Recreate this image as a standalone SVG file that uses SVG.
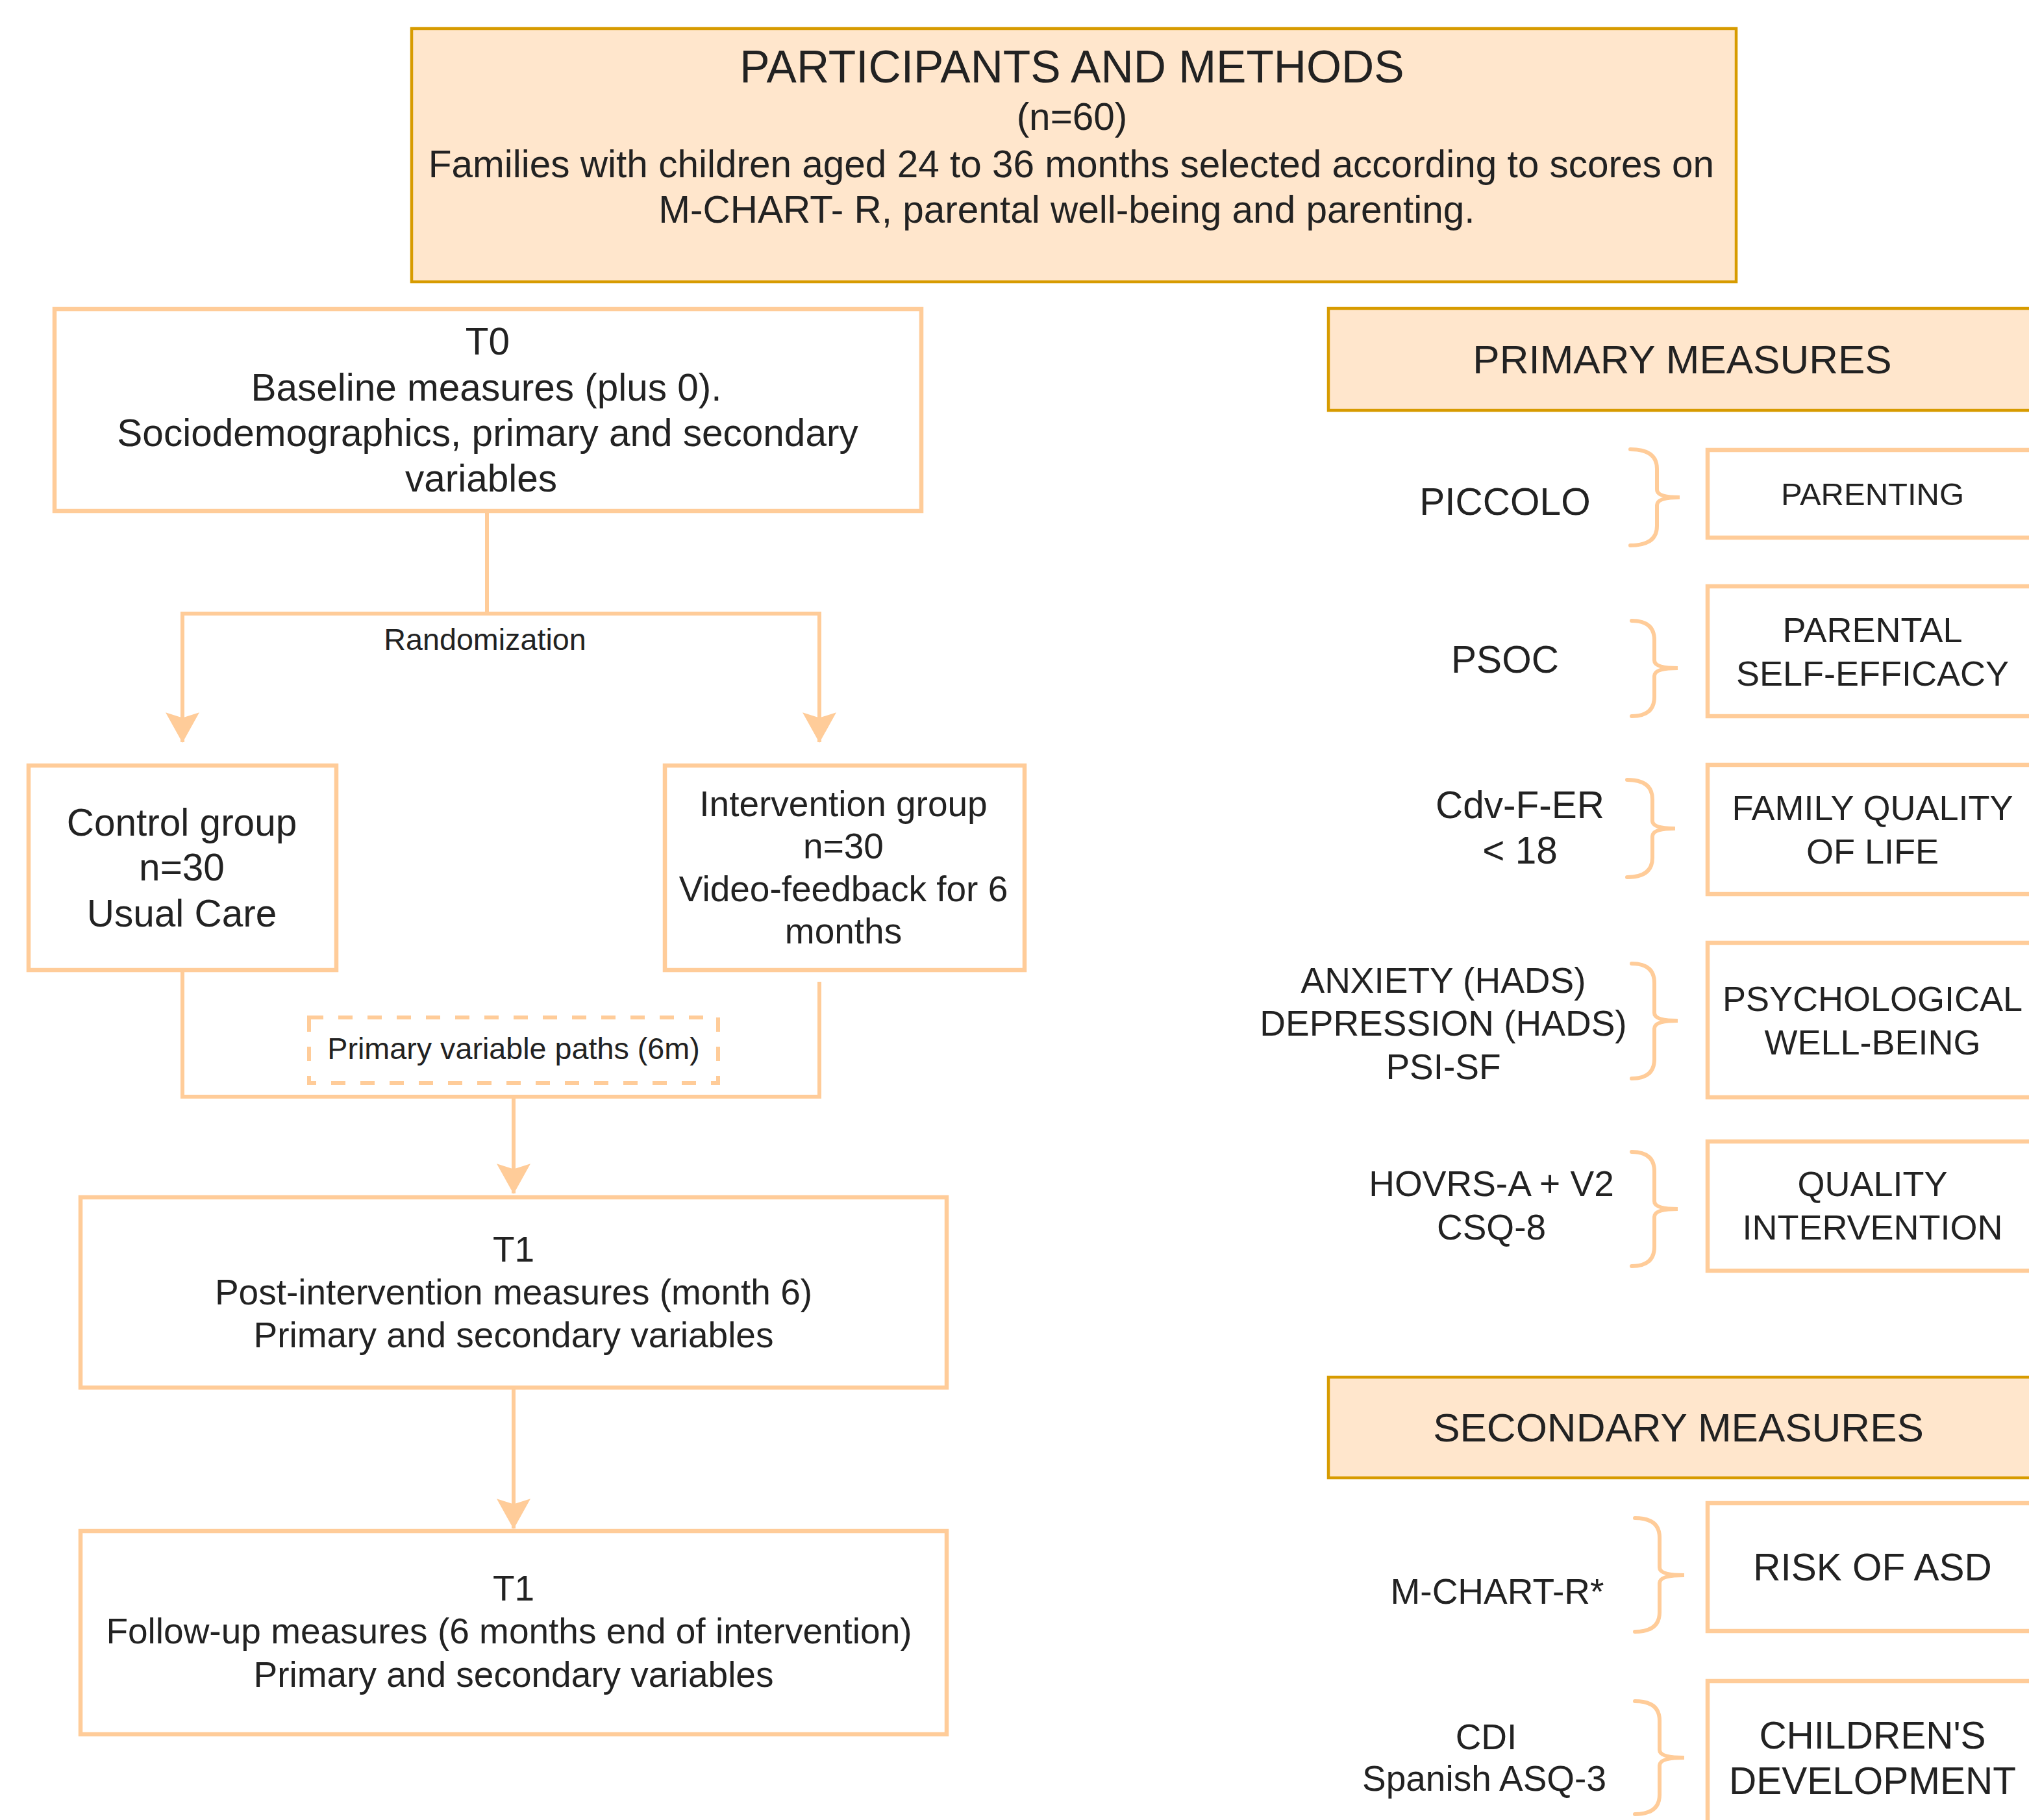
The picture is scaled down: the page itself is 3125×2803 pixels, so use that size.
<svg xmlns="http://www.w3.org/2000/svg" width="3125" height="2803" viewBox="0 0 3125 2803">
<defs>
<style>
text{font-family:"Liberation Sans",Arial,Helvetica,sans-serif;fill:#222222;text-anchor:middle}
.hdr{fill:#ffe6cc;stroke:#d79b00;stroke-width:4.5}
.box{fill:#ffffff;stroke:#ffcc99;stroke-width:6.5}
.dash{fill:none;stroke:#ffcc99;stroke-width:6;stroke-dasharray:22 23}
.ln{fill:none;stroke:#ffcc99;stroke-width:6}
.br{fill:none;stroke:#ffcc99;stroke-width:6;stroke-linecap:round}
.f70{font-size:69.5px}
.f62{font-size:62px}
.f58{font-size:58.5px}
.f55{font-size:55px}
.f54{font-size:54px}
.f49{font-size:49px}
.f47{font-size:46.7px}
</style>
<marker id="arr" markerUnits="userSpaceOnUse" markerWidth="52" markerHeight="52" viewBox="0 0 46 50" refX="44" refY="25" orient="auto">
<path d="M0,0 L45,25 L0,50 L8,25 Z" fill="#ffcc99"/>
</marker>
</defs>
<rect width="3125" height="2803" fill="#ffffff"/>

<g id="connectors">
<path class="ln" d="M750,790 V945"/>
<path class="ln" d="M750,945 H281 V1143" marker-end="url(#arr)"/>
<path class="ln" d="M750,945 H1262 V1143" marker-end="url(#arr)"/>
<path class="ln" d="M281,1497 V1689 H791"/>
<path class="ln" d="M1262,1512 V1689 H791"/>
<path class="ln" d="M791,1689 V1838" marker-end="url(#arr)"/>
<path class="ln" d="M791,2140 V2354" marker-end="url(#arr)"/>
</g>

<g id="participants">
<rect class="hdr" x="634" y="44" width="2040" height="390"/>
<text class="f70" x="1651" y="127">PARTICIPANTS AND METHODS</text>
<text class="f58" x="1651" y="200">(n=60)</text>
<text class="f58" x="1650" y="273">Families with children aged 24 to 36 months selected according to scores on</text>
<text class="f58" x="1643" y="343">M-CHART- R, parental well-being and parenting.</text>
</g>

<g id="t0">
<rect class="box" x="84" y="476" width="1335" height="311"/>
<text class="f58" x="751" y="546">T0</text>
<text class="f58" x="749" y="617">Baseline measures (plus 0).</text>
<text class="f58" x="751" y="687">Sociodemographics, primary and secondary</text>
<text class="f58" x="741" y="757">variables</text>
</g>

<g id="randomization">
<text class="f47" x="747" y="1001">Randomization</text>
</g>

<g id="control">
<rect class="box" x="44" y="1179" width="474" height="315"/>
<text class="f58" x="280" y="1287">Control group</text>
<text class="f58" x="280" y="1356">n=30</text>
<text class="f58" x="280" y="1427">Usual Care</text>
</g>

<g id="intervention">
<rect class="box" x="1024" y="1179" width="554" height="315"/>
<text class="f55" x="1299" y="1257">Intervention group</text>
<text class="f55" x="1299" y="1322">n=30</text>
<text class="f55" x="1299" y="1388">Video-feedback for 6</text>
<text class="f55" x="1299" y="1453">months</text>
</g>

<g id="paths6m">
<rect class="dash" x="476" y="1567" width="630" height="101"/>
<text class="f47" x="791" y="1631">Primary variable paths (6m)</text>
</g>

<g id="t1">
<rect class="box" x="124" y="1844" width="1334" height="293"/>
<text class="f55" x="791" y="1943">T1</text>
<text class="f55" x="791" y="2009">Post-intervention measures (month 6)</text>
<text class="f55" x="791" y="2075">Primary and secondary variables</text>
</g>

<g id="t1-followup">
<rect class="box" x="124" y="2358" width="1334" height="313"/>
<text class="f55" x="791" y="2465">T1</text>
<text class="f55" x="784" y="2531">Follow-up measures (6 months end of intervention)</text>
<text class="f55" x="791" y="2598">Primary and secondary variables</text>
</g>

<g id="primary-measures">
<rect class="hdr" x="2046" y="475" width="1100" height="157"/>
<text class="f62" x="2591" y="575">PRIMARY MEASURES</text>
</g>

<g id="piccolo">
<text class="f58" x="2318" y="793">PICCOLO</text>
<path class="br" d="M2511,692 Q2552,692 2552,722 V754 Q2552,766 2587,766 Q2552,766 2552,778 V810 Q2552,840 2511,840"/>
</g>
<g id="parenting">
<rect class="box" x="2630" y="693" width="520" height="135"/>
<text class="f49" x="2884" y="778">PARENTING</text>
</g>

<g id="psoc">
<text class="f58" x="2318" y="1036">PSOC</text>
<path class="br" d="M2513,956 Q2548,956 2548,986 V1017 Q2548,1029 2584,1029 Q2548,1029 2548,1041 V1073 Q2548,1103 2513,1103"/>
</g>
<g id="self-efficacy">
<rect class="box" x="2630" y="903" width="520" height="200"/>
<text class="f54" x="2884" y="989">PARENTAL</text>
<text class="f54" x="2884" y="1056">SELF-EFFICACY</text>
</g>

<g id="cdvfer">
<text class="f58" x="2341" y="1260">Cdv-F-ER</text>
<text class="f58" x="2341" y="1330">&lt; 18</text>
<path class="br" d="M2506,1201 Q2545,1201 2545,1231 V1264 Q2545,1276 2580,1276 Q2545,1276 2545,1288 V1321 Q2545,1351 2506,1351"/>
</g>
<g id="family-qol">
<rect class="box" x="2630" y="1178" width="520" height="199"/>
<text class="f54" x="2884" y="1263">FAMILY QUALITY</text>
<text class="f54" x="2884" y="1330">OF LIFE</text>
</g>

<g id="hads">
<text class="f55" x="2223" y="1529">ANXIETY (HADS)</text>
<text class="f55" x="2223" y="1595">DEPRESSION (HADS)</text>
<text class="f55" x="2223" y="1662">PSI-SF</text>
<path class="br" d="M2513,1484 Q2548,1484 2548,1514 V1560 Q2548,1572 2584,1572 Q2548,1572 2548,1584 V1631 Q2548,1661 2513,1661"/>
</g>
<g id="psych-wellbeing">
<rect class="box" x="2630" y="1452" width="520" height="238"/>
<text class="f54" x="2884" y="1557">PSYCHOLOGICAL</text>
<text class="f54" x="2884" y="1624">WELL-BEING</text>
</g>

<g id="hovrs">
<text class="f55" x="2297" y="1842">HOVRS-A + V2</text>
<text class="f55" x="2297" y="1909">CSQ-8</text>
<path class="br" d="M2513,1774 Q2548,1774 2548,1804 V1850 Q2548,1862 2584,1862 Q2548,1862 2548,1874 V1920 Q2548,1950 2513,1950"/>
</g>
<g id="quality-intervention">
<rect class="box" x="2630" y="1758" width="520" height="199"/>
<text class="f54" x="2884" y="1842">QUALITY</text>
<text class="f54" x="2884" y="1909">INTERVENTION</text>
</g>

<g id="secondary-measures">
<rect class="hdr" x="2046" y="2121" width="1100" height="155"/>
<text class="f62" x="2585" y="2220">SECONDARY MEASURES</text>
</g>

<g id="mchart">
<text class="f55" x="2306" y="2470">M-CHART-R*</text>
<path class="br" d="M2518,2338 Q2556,2338 2556,2368 V2414 Q2556,2426 2594,2426 Q2556,2426 2556,2438 V2483 Q2556,2513 2518,2513"/>
</g>
<g id="risk-asd">
<rect class="box" x="2630" y="2315" width="520" height="197"/>
<text class="f58" x="2884" y="2434">RISK OF ASD</text>
</g>

<g id="cdi">
<text class="f55" x="2289" y="2694">CDI</text>
<text class="f55" x="2286" y="2758">Spanish ASQ-3</text>
<path class="br" d="M2518,2620 Q2556,2620 2556,2650 V2695 Q2556,2707 2594,2707 Q2556,2707 2556,2719 V2764 Q2556,2794 2518,2794"/>
</g>
<g id="children-development">
<rect class="box" x="2630" y="2589" width="520" height="260"/>
<text class="f58" x="2884" y="2693">CHILDREN'S</text>
<text class="f58" x="2884" y="2763">DEVELOPMENT</text>
</g>
</svg>
